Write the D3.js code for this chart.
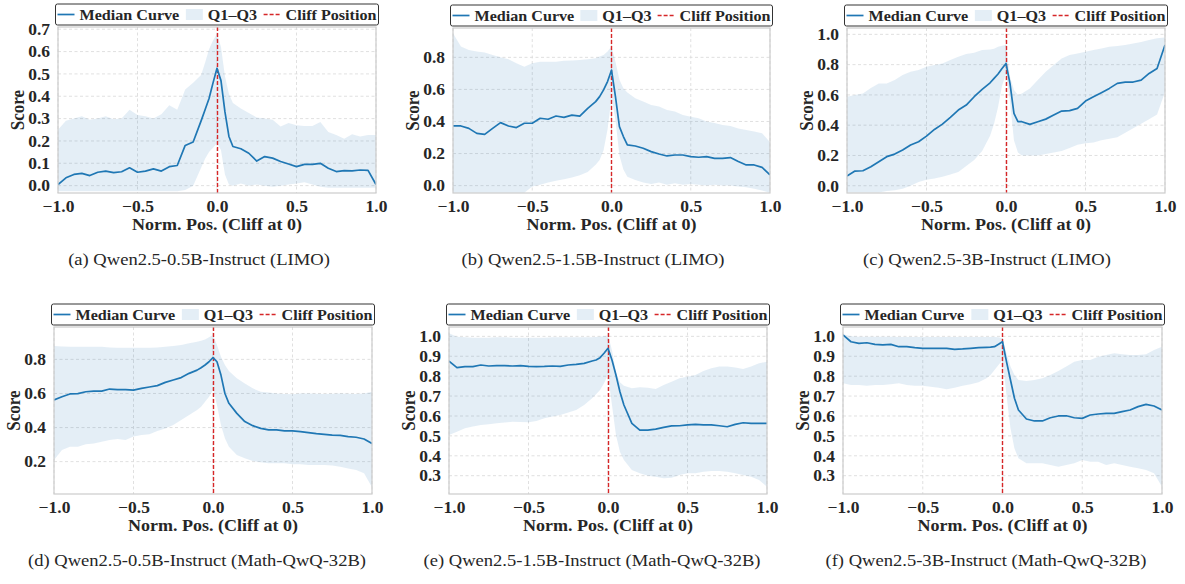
<!DOCTYPE html>
<html>
<head>
<meta charset="utf-8">
<script src="https://cdn.jsdelivr.net/npm/d3@7"></script>
<style>
  body { margin: 0; background: #fff; }
  text { font-family: "Liberation Serif", "Times New Roman", serif; fill: #262626; }
</style>
</head>
<body>
<svg id="chart" width="1185" height="584"></svg>
<script>
// shared x grid (normalized position, cliff at 0)
const xs = [-1.00,-0.95,-0.90,-0.85,-0.80,-0.75,-0.70,-0.65,-0.60,-0.55,-0.50,-0.45,-0.40,-0.35,-0.30,-0.25,-0.20,-0.15,-0.10,
  -0.075,-0.05,-0.025,0,0.025,0.05,0.075,
  0.10,0.15,0.20,0.25,0.30,0.35,0.40,0.45,0.50,0.55,0.60,0.65,0.70,0.75,0.80,0.85,0.90,0.95,1.00];

// (a) 0.5B LIMO
const medA = [0.005,0.035,0.05,0.055,0.045,0.06,0.065,0.058,0.062,0.08,0.06,0.065,0.075,0.065,0.085,0.09,0.18,0.195,0.29,
  0.34,0.39,0.46,0.525,0.47,0.33,0.22,
  0.175,0.165,0.145,0.11,0.13,0.123,0.108,0.097,0.085,0.095,0.095,0.1,0.078,0.063,0.067,0.066,0.07,0.068,0.005];
const q3A = [0.25,0.29,0.30,0.31,0.295,0.30,0.31,0.297,0.30,0.34,0.316,0.31,0.30,0.32,0.36,0.34,0.43,0.46,0.495,
  0.55,0.61,0.65,0.68,0.62,0.49,0.41,
  0.37,0.345,0.325,0.305,0.30,0.295,0.265,0.28,0.27,0.267,0.267,0.285,0.24,0.227,0.21,0.23,0.22,0.227,0.227];
const q1A = [-0.025,-0.025,-0.025,-0.025,-0.025,-0.025,-0.025,-0.025,-0.025,-0.025,-0.025,-0.025,-0.025,-0.025,-0.025,-0.025,-0.02,0.0,0.08,
  0.12,0.15,0.17,0.19,0.16,0.05,0.005,
  0.0,0.01,0.0,0.005,0.0,-0.005,0.0,0.005,0.01,0.015,0.005,-0.005,-0.01,-0.01,-0.01,-0.01,-0.01,-0.01,-0.01];

// (b) 1.5B LIMO
const medB = [0.372,0.372,0.357,0.326,0.32,0.357,0.393,0.372,0.362,0.389,0.389,0.42,0.414,0.434,0.426,0.44,0.434,0.482,0.524,
  0.555,0.597,0.649,0.72,0.555,0.368,0.306,
  0.254,0.247,0.233,0.212,0.197,0.185,0.191,0.191,0.181,0.177,0.181,0.17,0.17,0.175,0.15,0.129,0.129,0.114,0.067];
const q3B = [0.95,0.867,0.846,0.836,0.83,0.815,0.80,0.788,0.763,0.742,0.763,0.773,0.773,0.773,0.778,0.78,0.784,0.788,0.794,
  0.805,0.815,0.836,0.867,0.773,0.66,0.607,
  0.58,0.545,0.524,0.503,0.493,0.472,0.462,0.44,0.43,0.42,0.40,0.39,0.378,0.372,0.357,0.347,0.337,0.326,0.27];
const q1B = [-0.045,-0.045,-0.045,-0.045,-0.045,-0.045,-0.045,-0.045,-0.045,-0.045,-0.005,0.005,0.02,0.03,0.04,0.05,0.065,0.085,0.13,
  0.16,0.22,0.35,0.55,0.41,0.19,0.1,
  0.056,0.035,0.02,0.01,0.02,0.005,0.015,0.005,0.01,0.005,0.0,0.005,0.0,0.0,-0.005,-0.01,-0.02,-0.03,-0.045];

// (c) 3B LIMO
const medC = [0.064,0.097,0.099,0.126,0.159,0.192,0.209,0.236,0.269,0.291,0.328,0.372,0.407,0.452,0.5,0.533,0.588,0.637,0.68,
  0.709,0.738,0.775,0.808,0.676,0.478,0.423,
  0.423,0.405,0.423,0.44,0.467,0.493,0.496,0.511,0.559,0.588,0.615,0.643,0.676,0.685,0.685,0.698,0.742,0.775,0.93];
const q3C = [0.588,0.6,0.61,0.645,0.676,0.676,0.698,0.731,0.753,0.764,0.786,0.797,0.808,0.83,0.852,0.87,0.879,0.896,0.9,
  0.905,0.918,0.925,0.93,0.72,0.632,0.6,
  0.61,0.643,0.698,0.753,0.797,0.841,0.863,0.874,0.885,0.896,0.907,0.918,0.923,0.93,0.94,0.95,0.963,0.974,0.98];
const q1C = [-0.045,-0.045,-0.045,-0.045,-0.045,-0.035,-0.03,-0.02,0.0,0.025,0.04,0.048,0.06,0.075,0.09,0.13,0.17,0.23,0.33,
  0.41,0.52,0.66,0.74,0.56,0.3,0.22,
  0.2,0.2,0.2,0.21,0.22,0.23,0.25,0.27,0.28,0.285,0.3,0.31,0.32,0.35,0.38,0.41,0.44,0.47,0.62];

// (d) 0.5B Math-QwQ-32B
const medD = [0.562,0.581,0.597,0.599,0.61,0.614,0.614,0.626,0.622,0.622,0.62,0.63,0.638,0.646,0.665,0.679,0.693,0.718,0.737,
  0.751,0.767,0.786,0.81,0.786,0.708,0.60,
  0.542,0.483,0.435,0.411,0.395,0.386,0.386,0.38,0.38,0.376,0.37,0.364,0.36,0.356,0.354,0.347,0.343,0.333,0.307];
const q3D = [0.878,0.876,0.874,0.874,0.874,0.874,0.874,0.87,0.868,0.868,0.868,0.868,0.868,0.87,0.874,0.878,0.884,0.894,0.904,
  0.91,0.917,0.93,0.943,0.884,0.816,0.767,
  0.732,0.689,0.659,0.63,0.61,0.605,0.6,0.597,0.595,0.6,0.6,0.598,0.597,0.598,0.6,0.598,0.597,0.6,0.61];
const q1D = [0.21,0.268,0.288,0.288,0.302,0.307,0.317,0.327,0.333,0.327,0.347,0.356,0.36,0.38,0.395,0.415,0.444,0.474,0.503,
  0.522,0.552,0.581,0.62,0.532,0.415,0.337,
  0.288,0.239,0.22,0.204,0.196,0.19,0.19,0.19,0.184,0.184,0.18,0.18,0.18,0.177,0.17,0.16,0.151,0.132,0.05];

// (e) 1.5B Math-QwQ-32B
const medE = [0.876,0.843,0.848,0.848,0.856,0.851,0.853,0.853,0.851,0.853,0.849,0.848,0.849,0.851,0.849,0.856,0.859,0.864,0.876,
  0.881,0.893,0.915,0.94,0.881,0.806,0.722,
  0.655,0.563,0.529,0.529,0.534,0.543,0.55,0.551,0.555,0.558,0.555,0.555,0.551,0.546,0.558,0.566,0.563,0.563,0.563];
const q3E = [1.015,0.998,0.995,0.993,0.993,0.993,0.995,0.995,0.993,0.993,0.993,0.993,0.993,0.995,0.995,0.995,0.995,0.995,0.995,
  0.997,0.998,1.0,1.005,0.93,0.82,0.77,
  0.752,0.739,0.744,0.742,0.735,0.756,0.772,0.789,0.797,0.806,0.826,0.84,0.848,0.848,0.843,0.836,0.848,0.865,0.873];
const q1E = [0.504,0.521,0.538,0.547,0.555,0.559,0.563,0.567,0.571,0.57,0.568,0.575,0.588,0.597,0.605,0.618,0.63,0.655,0.689,
  0.709,0.73,0.764,0.806,0.655,0.504,0.42,
  0.379,0.328,0.312,0.3,0.295,0.287,0.29,0.303,0.312,0.312,0.32,0.323,0.323,0.32,0.312,0.303,0.295,0.278,0.245];

// (f) 3B Math-QwQ-32B
const medF = [1.007,0.973,0.965,0.968,0.96,0.957,0.96,0.948,0.948,0.943,0.94,0.94,0.94,0.94,0.935,0.937,0.94,0.943,0.945,
  0.946,0.948,0.96,0.973,0.873,0.781,0.689,
  0.63,0.585,0.575,0.575,0.591,0.6,0.601,0.591,0.588,0.605,0.61,0.613,0.613,0.622,0.63,0.647,0.658,0.65,0.63];
const q3F = [1.01,1.0,0.998,0.998,0.998,0.998,0.998,0.997,0.997,0.997,0.997,0.997,0.997,0.997,0.997,0.997,0.997,0.997,0.997,
  0.997,0.997,0.995,0.99,0.915,0.848,0.806,
  0.781,0.776,0.781,0.789,0.806,0.826,0.848,0.873,0.881,0.881,0.898,0.906,0.915,0.91,0.906,0.906,0.91,0.931,0.948];
const q1F = [0.764,0.756,0.756,0.752,0.756,0.756,0.759,0.764,0.756,0.752,0.752,0.747,0.742,0.734,0.742,0.752,0.759,0.769,0.789,
  0.806,0.831,0.856,0.881,0.705,0.538,0.437,
  0.387,0.362,0.362,0.362,0.354,0.345,0.354,0.362,0.379,0.37,0.37,0.354,0.362,0.354,0.345,0.337,0.328,0.312,0.245];

const captions = [
  "(a) Qwen2.5-0.5B-Instruct (LIMO)",
  "(b) Qwen2.5-1.5B-Instruct (LIMO)",
  "(c) Qwen2.5-3B-Instruct (LIMO)",
  "(d) Qwen2.5-0.5B-Instruct (Math-QwQ-32B)",
  "(e) Qwen2.5-1.5B-Instruct (Math-QwQ-32B)",
  "(f) Qwen2.5-3B-Instruct (Math-QwQ-32B)"
];
const xTicks = [-1, -0.5, 0, 0.5, 1];
const yTicks = [
  [0, 0.1, 0.2, 0.3, 0.4, 0.5, 0.6, 0.7],
  [0, 0.2, 0.4, 0.6, 0.8],
  [0, 0.2, 0.4, 0.6, 0.8, 1.0],
  [0.2, 0.4, 0.6, 0.8],
  [0.3, 0.4, 0.5, 0.6, 0.7, 0.8, 0.9, 1.0],
  [0.3, 0.4, 0.5, 0.6, 0.7, 0.8, 0.9, 1.0]
];
const yDomains = [[-0.033, 0.71], [-0.046, 0.983], [-0.048, 1.042], [0.01, 0.99], [0.208, 1.047], [0.208, 1.047]];
const legendLabels = ["Median Curve", "Q1\u2013Q3", "Cliff Position"];
const xLabel = "Norm. Pos. (Cliff at 0)";

const medians = [medA, medB, medC, medD, medE, medF];
const upper = [q3A, q3B, q3C, q3D, q3E, q3F];
const lower = [q1A, q1B, q1C, q1D, q1E, q1F];

const blue = "#1f77b4", red = "#d62728";

// plot boxes in page pixels
const boxes = [
  {l: 58, r: 376, t: 27, b: 193, cx: 199, cy: 265},
  {l: 453, r: 770, t: 28, b: 193, cx: 593, cy: 265},
  {l: 847, r: 1165, t: 28, b: 193, cx: 987, cy: 265},
  {l: 54, r: 372, t: 327, b: 494, cx: 197, cy: 566},
  {l: 449, r: 767, t: 327, b: 494, cx: 592, cy: 566},
  {l: 843, r: 1162, t: 327, b: 494, cx: 986, cy: 566}
];

const svg = d3.select('#chart');
const fmt = d3.format('.1f');

// the source figure is squeezed vertically, so its glyphs run wide:
// measure a text once and work out how much to widen it
function measure(str, size, weight) {
  const t = svg.append('text').style('font-size', size + 'px').style('font-weight', weight).text(str);
  const w = t.node().getComputedTextLength();
  t.remove();
  return w;
}
const labSx = 170 / measure(xLabel, 17, 'bold');
const capSx = 262 / measure(captions[0], 16.5, 'normal');
const legSx = 240 / legendLabels.reduce((a, s) => a + measure(s, 15.5, 'bold'), 0);

function stretch(sel, sx) {
  sel.each(function () {
    const t = d3.select(this);
    const x0 = +t.attr('x') || 0;
    t.attr('x', x0 / sx).attr('transform', `scale(${sx},1)`);
  });
}

boxes.forEach((bx, i) => {
  const x = d3.scaleLinear().domain([-1, 1]).range([bx.l, bx.r]);
  const y = d3.scaleLinear().domain(yDomains[i]).range([bx.b, bx.t]);
  const g = svg.append('g');

  g.append('clipPath').attr('id', 'clip' + i)
    .append('rect').attr('x', bx.l).attr('y', bx.t).attr('width', bx.r - bx.l).attr('height', bx.b - bx.t);

  // grid
  g.append('g').selectAll('line').data(xTicks).enter().append('line')
    .attr('x1', d => x(d)).attr('x2', d => x(d)).attr('y1', bx.t).attr('y2', bx.b)
    .attr('stroke', '#dcdcdc').attr('stroke-width', 0.9).attr('stroke-dasharray', '3,2.5');
  g.append('g').selectAll('line').data(yTicks[i]).enter().append('line')
    .attr('x1', bx.l).attr('x2', bx.r).attr('y1', d => y(d)).attr('y2', d => y(d))
    .attr('stroke', '#dcdcdc').attr('stroke-width', 0.9).attr('stroke-dasharray', '3,2.5');

  const plot = g.append('g').attr('clip-path', `url(#clip${i})`);
  const rows = xs.map((v, k) => ({x: v, lo: lower[i][k], hi: upper[i][k], m: medians[i][k]}));

  plot.append('path').datum(rows)
    .attr('d', d3.area().x(d => x(d.x)).y0(d => y(d.lo)).y1(d => y(d.hi)))
    .attr('fill', blue).attr('fill-opacity', 0.12);

  const cx0 = Math.floor(x(0)) + 0.5;
  plot.append('line')
    .attr('x1', cx0).attr('x2', cx0).attr('y1', bx.t).attr('y2', bx.b)
    .attr('stroke', red).attr('stroke-width', 1.4).attr('stroke-dasharray', '4,2');

  plot.append('path').datum(rows)
    .attr('d', d3.line().x(d => x(d.x)).y(d => y(d.m)))
    .attr('fill', 'none').attr('stroke', blue).attr('stroke-width', 1.7)
    .attr('stroke-linejoin', 'round');

  // frame
  g.append('rect').attr('x', bx.l).attr('y', bx.t).attr('width', bx.r - bx.l).attr('height', bx.b - bx.t)
    .attr('fill', 'none').attr('stroke', '#cccccc').attr('stroke-width', 1.2);

  // axes (labels only)
  const xa = g.append('g').attr('transform', `translate(0,${bx.b})`)
    .call(d3.axisBottom(x).tickValues(xTicks).tickSize(0).tickPadding(7).tickFormat(fmt));
  const ya = g.append('g').attr('transform', `translate(${bx.l},0)`)
    .call(d3.axisLeft(y).tickValues(yTicks[i]).tickSize(0).tickPadding(8).tickFormat(fmt));
  [xa, ya].forEach(a => {
    a.select('.domain').remove();
    a.selectAll('text').style('font-family', '"Liberation Serif", serif')
      .style('font-size', '16.5px').style('font-weight', 'bold').attr('fill', '#262626');
    stretch(a.selectAll('text'), labSx);
  });

  const xl = g.append('text').attr('x', (bx.l + bx.r) / 2).attr('y', bx.b + 37.5)
    .attr('text-anchor', 'middle').style('font-size', '17px').style('font-weight', 'bold')
    .text(xLabel);
  stretch(xl, labSx);
  g.append('text')
    .attr('transform', `translate(${bx.l - 34},${(bx.t + bx.b) / 2}) rotate(-90) scale(1,${labSx})`)
    .attr('text-anchor', 'middle').style('font-size', '17px').style('font-weight', 'bold')
    .text('Score');

  // legend
  const lx0 = bx.l - 2.5, lx1 = bx.r + 2.5, ly0 = bx.t - 23, ly1 = bx.t - 2;
  const lg = g.append('g');
  lg.append('rect').attr('x', lx0).attr('y', ly0).attr('width', lx1 - lx0).attr('height', ly1 - ly0)
    .attr('rx', 2).attr('fill', '#fff').attr('stroke', '#333').attr('stroke-width', 1);
  const midY = (ly0 + ly1) / 2;
  const texts = legendLabels.map(s => lg.append('text').attr('y', midY + 5.3)
    .style('font-size', '15.5px').style('font-weight', 'bold').text(s));
  const widths = texts.map(t => t.node().getComputedTextLength() * legSx);
  const handle = 17, hgap = 5, pad = 2;
  const used = widths.reduce((a, w) => a + handle + hgap + w, 0);
  const colGap = Math.max(4, (lx1 - lx0 - 2 * pad - used) / 2);
  let cur = lx0 + pad;
  legendLabels.forEach((s, k) => {
    if (k === 0) {
      lg.append('line').attr('x1', cur).attr('x2', cur + handle).attr('y1', midY).attr('y2', midY)
        .attr('stroke', blue).attr('stroke-width', 1.7);
    } else if (k === 1) {
      lg.append('rect').attr('x', cur).attr('y', midY - 5.5).attr('width', handle).attr('height', 11)
        .attr('fill', blue).attr('fill-opacity', 0.12);
    } else {
      lg.append('line').attr('x1', cur).attr('x2', cur + handle).attr('y1', midY).attr('y2', midY)
        .attr('stroke', red).attr('stroke-width', 1.4).attr('stroke-dasharray', '4,2');
    }
    texts[k].attr('x', cur + handle + hgap);
    stretch(texts[k], legSx);
    cur += handle + hgap + widths[k] + colGap;
  });

  // caption
  const cap = svg.append('text').attr('x', bx.cx).attr('y', bx.cy).attr('text-anchor', 'middle')
    .style('font-size', '16.5px').text(captions[i]);
  stretch(cap, capSx);
});
</script>
</body>
</html>
